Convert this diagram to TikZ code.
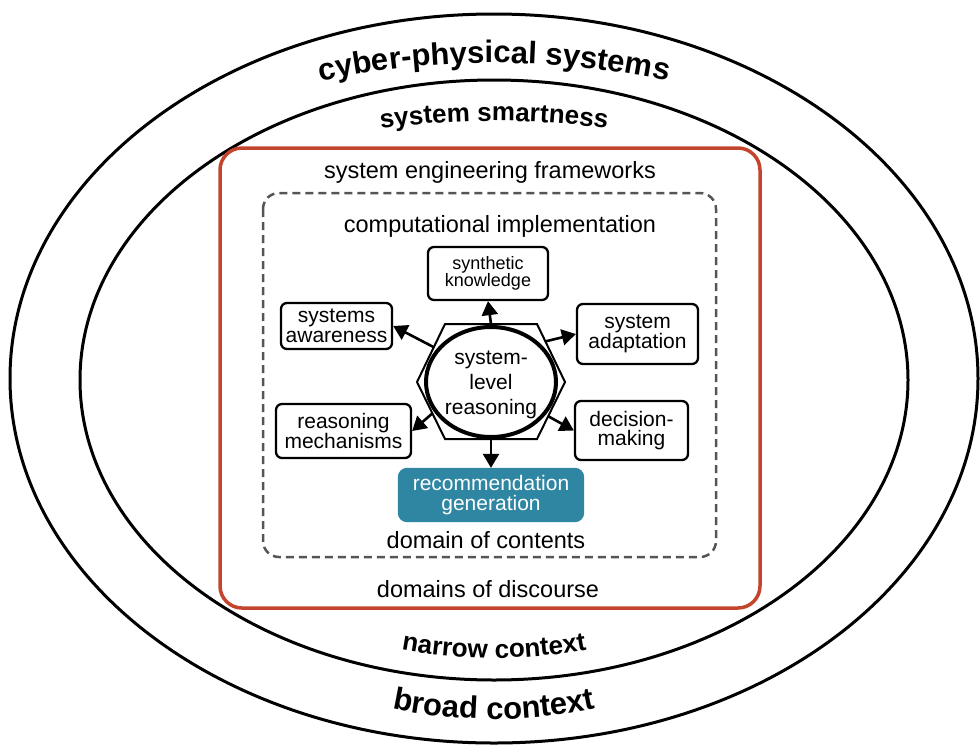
\documentclass[tikz,border=0pt]{standalone}
\usepackage{fontspec}
\setmainfont{Liberation Sans}
\usetikzlibrary{shapes.geometric,arrows.meta,decorations.text,calc}
\definecolor{framered}{HTML}{C4452D}
\definecolor{recblue}{HTML}{2F86A3}
\definecolor{dashgray}{HTML}{555555}
\begin{document}
\begin{tikzpicture}[x=1pt,y=-1pt,
  ring/.style={draw, line width=3pt},
  boxnode/.style={draw, line width=2.3pt, rounded corners=6pt, align=center,
    font=\fontsize{21}{19.5}\selectfont, inner sep=0pt},
  arr/.style={line width=2.6pt, -{Triangle[length=14pt,width=16pt]}},
  lbl/.style={font=\fontsize{23.5}{26}\selectfont, inner sep=0pt},
  curvetext/.style={decorate, decoration={text along path, text align=center, text={#1}}}
]
\useasboundingbox (0,0) rectangle (980,745);
% rings
\draw[ring] (494,378.5) ellipse[x radius=484, y radius=364.5];
\draw[ring] (494,380) ellipse[x radius=414, y radius=300];
% curved labels
\path[curvetext={|\bfseries\fontsize{31}{31}\selectfont|cyber-physical systems}]
  ($(494,378)+(200:520 and 315)$) arc[start angle=200, end angle=340, x radius=520, y radius=315];
\path[curvetext={|\bfseries\fontsize{26}{26}\selectfont|system smartness}]
  ($(494,378)+(200:470 and 257)$) arc[start angle=200, end angle=340, x radius=470, y radius=257];
\path[curvetext={|\bfseries\fontsize{26}{26}\selectfont|narrow context}]
  ($(494,378)+(160:380 and 280)$) arc[start angle=160, end angle=20, x radius=380, y radius=280];
\path[curvetext={|\bfseries\fontsize{31}{31}\selectfont|broad context}]
  ($(494,378)+(160:412 and 341)$) arc[start angle=160, end angle=20, x radius=412, y radius=341];
% frames
\draw[framered, line width=3.5pt, rounded corners=22pt] (220,148) rectangle (760,608);
\draw[dashgray, line width=2.5pt, dash pattern=on 8pt off 5pt, rounded corners=16pt] (263,193) rectangle (716,557);
\node[lbl] (sef) at (490,172) {system engineering frameworks};
\node[lbl] (ci) at (500,226) {computational implementation};
\node[lbl] (doc) at (486,540) {domain of contents};
\node[lbl] (dod) at (488,589) {domains of discourse};
% hexagon
\coordinate (h1) at (445,324);
\coordinate (h2) at (537,324);
\coordinate (h3) at (565,382);
\coordinate (h4) at (537,439);
\coordinate (h5) at (445,439);
\coordinate (h6) at (417,382);
\draw[line width=2pt] (h1)--(h2)--(h3)--(h4)--(h5)--(h6)--cycle;
\node[ellipse, draw, line width=4pt, minimum width=130pt, minimum height=110pt, inner sep=0pt] (hub) at (491,382) {};
\node[align=center, font=\fontsize{21}{25}\selectfont, inner sep=0pt] (hubtext) at (491,385) {system-\\level\\reasoning};
% boxes
\node[boxnode, font=\fontsize{18}{17}\selectfont, minimum width=120pt, minimum height=53pt] (sk) at (488,273.5) {synthetic\\knowledge};
\node[boxnode, minimum width=111pt, minimum height=46pt] (sa) at (336.5,326) {systems\\awareness};
\node[boxnode, minimum width=121pt, minimum height=60pt] (sad) at (637.5,334) {system\\adaptation};
\node[boxnode, minimum width=135pt, minimum height=54pt] (rm) at (343.5,431) {reasoning\\mechanisms};
\node[boxnode, minimum width=113pt, minimum height=59pt] (dm) at (631.5,430.5) {decision-\\making};
\node[boxnode, fill=recblue, draw=recblue, text=white, rounded corners=8pt, minimum width=184pt, minimum height=52pt] (rg) at (491,495) {recommendation\\generation};
% arrows
\coordinate (sU) at ($(h1)!0.5!(h2)$);
\coordinate (sUL) at ($(h1)!0.4!(h6)$);
\coordinate (sUR) at ($(h2)!0.3!(h3)$);
\coordinate (sLL) at ($(h6)!0.55!(h5)$);
\coordinate (sLR) at ($(h3)!0.6!(h4)$);
\coordinate (sD) at ($(h5)!0.5!(h4)$);
\draw[arr] (sU) -- (sk.south);
\draw[arr] (sUL) -- (sa.east);
\draw[arr] (sUR) -- (sad.west);
\draw[arr] (sLL) -- (rm.east);
\draw[arr] (sLR) -- (dm.west);
\draw[arr] (sD) -- (rg.north);
\end{tikzpicture}
\end{document}
